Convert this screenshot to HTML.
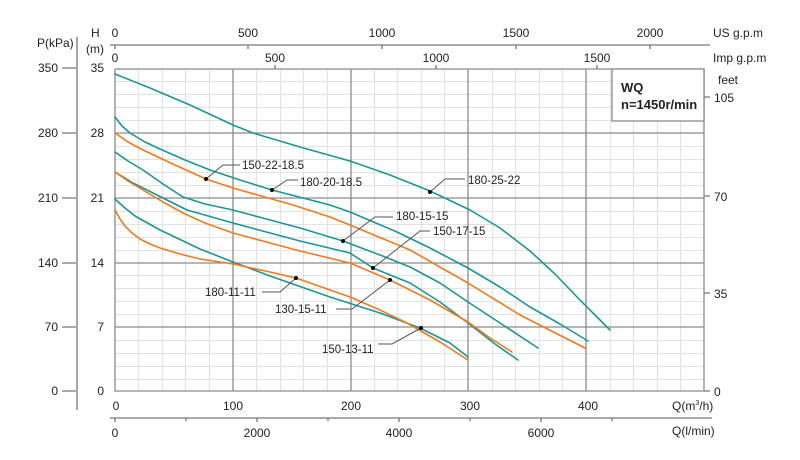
<!DOCTYPE html>
<html><head><meta charset="utf-8"><style>
html,body{margin:0;padding:0;background:#fff}
svg{display:block}
text{font-family:"Liberation Sans",Arial,sans-serif;font-size:12px;fill:#222}
.lb{font-size:11.5px}
</style></head><body>
<svg width="800" height="460" viewBox="0 0 800 460" xmlns="http://www.w3.org/2000/svg">
<g stroke="#e2e2e2" stroke-width="1" fill="none">
<path d="M138.5 69V391M162.5 69V391M185.5 69V391M209.5 69V391M256.5 69V391M280.5 69V391M303.5 69V391M327.5 69V391M374.5 69V391M397.5 69V391M421.5 69V391M444.5 69V391M492.5 69V391M515.5 69V391M539.5 69V391M562.5 69V391M610.5 69V391M633.5 69V391M657.5 69V391M680.5 69V391"/>
<path d="M115 81.5H704M115 94.5H704M115 107.5H704M115 120.5H704M115 146.5H704M115 159.5H704M115 172.5H704M115 185.5H704M115 211.5H704M115 224.5H704M115 237.5H704M115 250.5H704M115 275.5H704M115 288.5H704M115 301.5H704M115 314.5H704M115 340.5H704M115 353.5H704M115 366.5H704M115 379.5H704"/>
</g>
<g stroke="#8a8a8a" stroke-width="1.3" fill="none">
<path d="M233 69V391M351 69V391M468 69V391M586 69V391"/>
<path d="M115 133H704M115 198H704M115 263H704M115 327H704"/>
<path d="M115 69H704V391M115 69V391H704"/>
</g>
<rect x="612" y="69" width="92" height="52" fill="#fff" stroke="#8a8a8a" stroke-width="1.3"/>
<text x="621" y="92" style="font-weight:bold;font-size:13px">WQ</text>
<text x="621" y="109" style="font-weight:bold;font-size:13px">n=1450r/min</text>
<g stroke="#777" stroke-width="1.3">
<path d="M77 37V410"/>
<path d="M62 68H76M62 133H76M62 198H76M62 263H76M62 327H76M62 391H76"/>
<path d="M704 97H710M704 196H710M704 293H710M704 391H710"/>
<path d="M110 45H710M115 45V49M248 45V49M382 45V49M516 45V49M650 45V49"/>
<path d="M275 65V69M436 65V69M597 65V69"/>
<path d="M110 418H712M115 418V422M186 418V421M257 418V422M328 418V421M399 418V422M470 418V421M541 418V422M612 418V421"/>
</g>
<g text-anchor="end">
<text x="58" y="72">350</text><text x="58" y="137">280</text><text x="58" y="202">210</text>
<text x="58" y="267">140</text><text x="58" y="331">70</text><text x="58" y="395">0</text>
<text x="104" y="72">35</text><text x="104" y="137">28</text><text x="104" y="202">21</text>
<text x="104" y="267">14</text><text x="104" y="331">7</text><text x="104" y="395">0</text>
</g>
<text x="37" y="47">P(kPa)</text>
<text x="91" y="37">H</text><text x="86" y="53">(m)</text>
<g text-anchor="middle">
<text x="115" y="37">0</text><text x="248" y="37">500</text><text x="382" y="37">1000</text><text x="516" y="37">1500</text><text x="650" y="37">2000</text>
<text x="115" y="62">0</text><text x="275" y="62">500</text><text x="436" y="62">1000</text><text x="597" y="62">1500</text>
<text x="116" y="410">0</text><text x="233" y="410">100</text><text x="351" y="410">200</text><text x="470" y="410">300</text><text x="588" y="410">400</text>
<text x="115" y="437">0</text><text x="257" y="437">2000</text><text x="399" y="437">4000</text><text x="541" y="437">6000</text>
</g>
<text x="713" y="37">US g.p.m</text>
<text x="713" y="62">Imp g.p.m</text>
<text x="718" y="84">feet</text>
<text x="714" y="102">105</text><text x="714" y="201">70</text><text x="714" y="298">35</text><text x="714" y="396">0</text>
<text x="672" y="410">Q(m<tspan dy="-5" style="font-size:7px">3</tspan><tspan dy="5">/h)</tspan></text>
<text x="672" y="435">Q(l/min)</text>
<g fill="none" stroke-width="1.6" stroke-linejoin="round" stroke-linecap="round">
<polyline stroke="#1a9696" points="115,74 150,88 190,105 233,125 253,133 300,147 350,161 390,175 430,191 470,210 500,228 530,251 555,274 580,300 600,320 610,330"/>
<polyline stroke="#1a9696" points="115,117 122,126 130,133 145,142 160,149 185,160 210,170 240,180 272,190 330,205 350,212 397,232 430,248 468,268 500,287 530,307 560,324 588,341"/>
<polyline stroke="#f07a1a" points="115,133 128,142 143,150 175,165 206,179 233,188 293,205 330,217 350,225 410,250 468,283 520,315 585,348"/>
<polyline stroke="#1a9696" points="115,152 128,161 143,170 163,184 183,197 205,204 233,210 300,228 343,241 380,255 410,267 440,283 468,302 500,323 538,348"/>
<polyline stroke="#1a9696" points="115,172 133,183 153,193 187,210 233,223 300,241 350,253 373,268 410,283 440,302 468,323 495,344 518,360"/>
<polyline stroke="#f07a1a" points="115,172 128,181 143,190 163,202 183,213 205,223 233,233 300,251 350,263 390,280 430,300 468,322 490,338 512,352"/>
<polyline stroke="#1a9696" points="115,199 125,208 135,216 160,230 200,249 233,262 270,276 310,290 330,297 380,313 420,328 450,343 468,357"/>
<polyline stroke="#f07a1a" points="115,210 120,219 125,226 132,233 140,239 150,244 160,248 180,254 200,259 233,264 270,272 296,278 350,297 380,310 407,323 440,342 468,360"/>
</g>
<g stroke="#555" stroke-width="1" fill="none">
<path d="M206 179L223 165H240"/>
<path d="M272 190L287 180H298"/>
<path d="M430 192L445 179H465"/>
<path d="M343 241L375 217H393"/>
<path d="M373 268L420 231H430"/>
<path d="M390 280L352 309H336"/>
<path d="M296 278L280 292H262"/>
<path d="M421 328L392 344H378"/>
</g>
<g fill="#000">
<circle cx="206" cy="179" r="2"/><circle cx="272" cy="190" r="2"/><circle cx="430" cy="192" r="2"/>
<circle cx="343" cy="241" r="2"/><circle cx="373" cy="268" r="2"/><circle cx="390" cy="280" r="2"/>
<circle cx="296" cy="278" r="2"/><circle cx="421" cy="328" r="2"/>
</g>
<g>
<text class="lb" x="242" y="169">150-22-18.5</text>
<text class="lb" x="300" y="186">180-20-18.5</text>
<text class="lb" x="468" y="184">180-25-22</text>
<text class="lb" x="396" y="220">180-15-15</text>
<text class="lb" x="433" y="235">150-17-15</text>
<text class="lb" x="275" y="313">130-15-11</text>
<text class="lb" x="205" y="296">180-11-11</text>
<text class="lb" x="322" y="353">150-13-11</text>
</g>
</svg>
</body></html>
